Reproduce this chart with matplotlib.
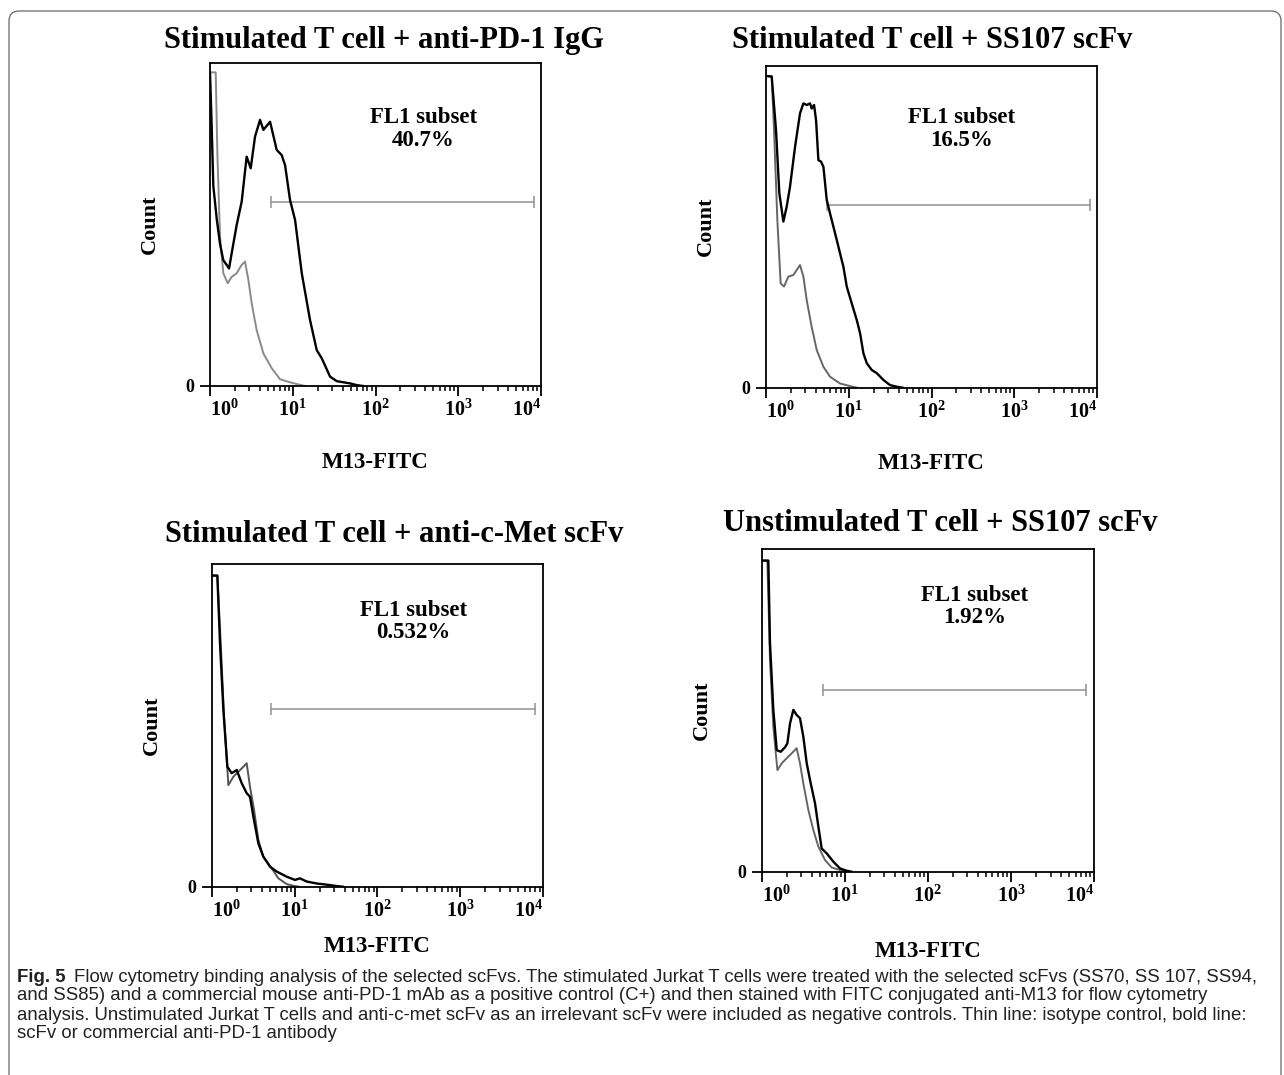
import matplotlib.pyplot as plt
import numpy as np
from matplotlib.patches import FancyBboxPatch
from matplotlib.transforms import IdentityTransform

plt.rcParams['font.family'] = 'Liberation Serif'
plt.rcParams['font.weight'] = 'bold'
plt.rcParams['mathtext.fontset'] = 'custom'
plt.rcParams['mathtext.rm'] = 'Liberation Serif:bold'
plt.rcParams['mathtext.bf'] = 'Liberation Serif:bold'

W, H = 1284, 1075

titles = ["Stimulated T cell + anti-PD-1 IgG",
          "Stimulated T cell + SS107 scFv",
          "Stimulated T cell + anti-c-Met scFv",
          "Unstimulated T cell + SS107 scFv"]
subset_pct = ["40.7%", "16.5%", "0.532%", "1.92%"]

# histograms: log10(M13-FITC) and count (% of axis height)
igg_bold_log = [0.0, 0.015, 0.04, 0.08, 0.121, 0.16, 0.23, 0.262, 0.322, 0.383, 0.443, 0.492,
                0.544, 0.605, 0.645, 0.726, 0.806, 0.866, 0.907, 0.967, 1.028, 1.109, 1.209,
                1.29, 1.35, 1.451, 1.532, 1.693, 1.77, 1.85]
igg_bold_cnt = [97.1, 85, 62, 52, 44, 39, 36.4, 41.1, 49.8, 57.1, 71.0, 67.4,
                77.2, 82.4, 79.3, 81.8, 73.1, 71.5, 68.4, 57.6, 51.4, 34.9, 20.4,
                11.1, 8.6, 2.9, 1.5, 0.8, 0.3, 0]
igg_thin_log = [0.0, 0.069, 0.089, 0.121, 0.161, 0.214, 0.262, 0.322, 0.383, 0.423, 0.464,
                0.504, 0.564, 0.645, 0.746, 0.846, 0.947, 1.048, 1.15]
igg_thin_cnt = [97.1, 97.1, 72, 46.2, 34.9, 31.8, 33.8, 34.9, 37.5, 38.5, 32.8,
                25.6, 17.3, 10.1, 5.5, 2.1, 1.3, 0.6, 0]

ss107_bold_log = [0.0, 0.069, 0.121, 0.161, 0.21, 0.25, 0.29, 0.351, 0.411, 0.452, 0.492, 0.532,
                  0.552, 0.581, 0.605, 0.633, 0.665, 0.694, 0.734, 0.774, 0.855, 0.895, 0.935,
                  0.976, 1.036, 1.097, 1.137, 1.177, 1.218, 1.278, 1.339, 1.419, 1.5, 1.58, 1.65]
ss107_bold_cnt = [96.8, 96.6, 80.0, 60.4, 51.6, 56.2, 62.4, 74.8, 85.2, 88.3, 87.8, 88.3,
                  86.7, 87.8, 83.1, 70.7, 70.2, 68.6, 58.3, 54.1, 45.9, 41.7, 37.6,
                  31.4, 26.2, 21.0, 16.9, 10.7, 7.6, 5.5, 4.5, 2.4, 0.8, 0.3, 0]
ss107_thin_log = [0.0, 0.069, 0.097, 0.137, 0.177, 0.218, 0.27, 0.331, 0.411, 0.452, 0.492,
                  0.552, 0.613, 0.694, 0.774, 0.895, 1.016, 1.1]
ss107_thin_cnt = [96.8, 96.8, 80, 52.1, 32.4, 31.4, 34.5, 35.0, 38.1, 34.5, 27.2,
                  18.9, 11.7, 6.5, 3.4, 1.3, 0.5, 0]

cmet_bold_log = [0.0, 0.068, 0.1, 0.141, 0.189, 0.241, 0.302, 0.362, 0.422, 0.462, 0.503,
                 0.563, 0.623, 0.704, 0.784, 0.905, 1.005, 1.065, 1.146, 1.266, 1.427, 1.508, 1.58]
cmet_bold_cnt = [96.5, 96.5, 75.5, 54.8, 37.2, 35.2, 36.2, 32.1, 29.0, 27.9, 21.7,
                 13.4, 9.3, 6.2, 4.7, 3.1, 2.1, 2.6, 1.6, 1.0, 0.5, 0.2, 0]
cmet_thin_log = [0.0, 0.068, 0.109, 0.149, 0.201, 0.261, 0.322, 0.382, 0.422, 0.462, 0.511,
                 0.563, 0.623, 0.724, 0.804, 0.905, 0.985, 1.05]
cmet_thin_cnt = [96.5, 96.5, 75.5, 52.7, 31.5, 34.1, 35.7, 37.2, 38.3, 31.0, 23.8,
                 14.5, 9.3, 5.7, 2.6, 0.8, 0.3, 0]

unstim_bold_log = [0.0, 0.08, 0.1, 0.14, 0.181, 0.229, 0.281, 0.309, 0.341, 0.381, 0.421,
                   0.461, 0.501, 0.542, 0.582, 0.642, 0.682, 0.722, 0.782, 0.863, 0.943, 1.023, 1.08]
unstim_bold_cnt = [96.5, 96.5, 70.8, 50.2, 37.7, 37.2, 38.6, 39.8, 46.0, 50.2, 48.6,
                   47.6, 41.9, 33.6, 28.4, 21.2, 14.0, 7.2, 5.7, 3.1, 1.0, 0.3, 0]
unstim_thin_log = [0.0, 0.068, 0.1, 0.14, 0.189, 0.241, 0.301, 0.361, 0.421, 0.461, 0.501,
                   0.562, 0.622, 0.682, 0.762, 0.843, 0.943, 1.0]
unstim_thin_cnt = [96.5, 96.5, 65.7, 45.0, 31.5, 33.6, 35.2, 36.7, 38.3, 33.6, 27.4,
                   19.1, 12.9, 7.8, 3.6, 1.3, 0.5, 0]

gate_log = [(0.734, 3.918), (0.734, 3.911), (0.716, 3.90), (0.734, 3.904)]
gate_cnt = [56.9, 56.7, 55.1, 56.4]

bold = [(igg_bold_log, igg_bold_cnt), (ss107_bold_log, ss107_bold_cnt),
        (cmet_bold_log, cmet_bold_cnt), (unstim_bold_log, unstim_bold_cnt)]
thin = [(igg_thin_log, igg_thin_cnt), (ss107_thin_log, ss107_thin_cnt),
        (cmet_thin_log, cmet_thin_cnt), (unstim_thin_log, unstim_thin_cnt)]

# pixel boxes (left, top, right, bottom) of each panel
boxes = [(210, 63, 541, 386), (766, 65.7, 1097, 387.7),
         (211.7, 564.3, 543.3, 886.7), (761.7, 549.3, 1094, 871.7)]
title_pos = [(164, 48.3), (731.7, 48.3), (165, 541.7), (723, 530.7)]
xlabel_y = [463, 463.3, 946.7, 951.7]
text_pos = [(0.645, 79.5), (0.59, 80.3), (0.608, 82.2), (0.642, 82.2)]
thin_colors = ['#8a8a8a', '#666666', '#555555', '#666666']

fig = plt.figure(figsize=(W / 100, H / 100), dpi=100)

for i in range(4):
    l, t, r, b = boxes[i]
    ax = fig.add_axes([l / W, 1 - b / H, (r - l) / W, (b - t) / H])
    ax.set_xscale('log')
    ax.set_xlim(1, 1e4)
    ax.set_ylim(0, 100)

    xl, yl = thin[i]
    ax.plot(10 ** np.array(xl), yl, color=thin_colors[i], lw=1.4, zorder=2)
    xb, yb = bold[i]
    ax.plot(10 ** np.array(xb), yb, color='black', lw=1.7, zorder=3)

    g0, g1 = gate_log[i]
    ax.plot([10 ** g0, 10 ** g1], [gate_cnt[i]] * 2, color='#9a9a9a', lw=1.2,
            marker='|', markersize=8, markeredgewidth=1.2)

    tx, ty = text_pos[i]
    ax.text(tx, ty, "FL1 subset\n" + subset_pct[i], transform=ax.get_yaxis_transform(),
            ha='center', va='center', fontsize=16.5, fontweight='bold', linespacing=1.1)

    for s in ax.spines.values():
        s.set_linewidth(1.3)
    ax.set_xticks([1, 10, 100, 1000, 10000])
    labs = ax.set_xticklabels([r'$\mathbf{10^{%d}}$' % k for k in range(5)], fontsize=14.5)
    labs[0].set_ha('left')
    labs[-1].set_ha('right')
    ax.xaxis.set_minor_locator(plt.matplotlib.ticker.LogLocator(base=10, subs=np.arange(2, 10)))
    ax.xaxis.set_minor_formatter(plt.NullFormatter())
    ax.tick_params(axis='x', which='major', direction='out', length=7, width=1.3, pad=3)
    ax.tick_params(axis='x', which='minor', direction='out', length=3.5, width=1.1)
    ax.set_yticks([0])
    ax.set_yticklabels(['0'], fontsize=13, fontweight='bold')
    ax.tick_params(axis='y', direction='out', length=7, width=1.3, pad=4)

    ax.text(-60 / (r - l), 0.5, "Count", transform=ax.transAxes, rotation=90,
            ha='center', va='center', fontsize=16, fontweight='bold')

    fig.text(title_pos[i][0] / W, 1 - title_pos[i][1] / H, titles[i],
             ha='left', va='baseline', fontsize=22, fontweight='bold')
    fig.text((l + r) / 2 / W, 1 - xlabel_y[i] / H, "M13-FITC",
             ha='center', va='center', fontsize=16.5, fontweight='bold')

# outer rounded frame
frame = FancyBboxPatch((9, -30), 1272, H - 11 + 30, boxstyle='round,pad=0,rounding_size=10',
                       transform=IdentityTransform(), fill=False, edgecolor='#666666', lw=0.9)
fig.add_artist(frame)

cap_font = ['Liberation Sans', 'DejaVu Sans']
cap_lines = [
    "Flow cytometry binding analysis of the selected scFvs. The stimulated Jurkat T cells were treated with the selected scFvs (SS70, SS 107, SS94,",
    "and SS85) and a commercial mouse anti-PD-1 mAb as a positive control (C+) and then stained with FITC conjugated anti-M13 for flow cytometry",
    "analysis. Unstimulated Jurkat T cells and anti-c-met scFv as an irrelevant scFv were included as negative controls. Thin line: isotype control, bold line:",
    "scFv or commercial anti-PD-1 antibody",
]
cap_y = [977, 996, 1015, 1034]
cap_size = 13.4
fig_lbl = fig.text(17 / W, 1 - cap_y[0] / H, "Fig. 5", family=cap_font, fontweight='bold',
                   fontsize=cap_size, va='center', ha='left', color='#222222')
renderer = fig.canvas.get_renderer()
x_after = fig_lbl.get_window_extent(renderer).x1 + 8
for j, line in enumerate(cap_lines):
    x0 = x_after if j == 0 else 17
    fig.text(x0 / W, 1 - cap_y[j] / H, line, family=cap_font, fontweight='normal',
             fontsize=cap_size, va='center', ha='left', color='#222222')

fig.savefig('out.png', dpi=100)
